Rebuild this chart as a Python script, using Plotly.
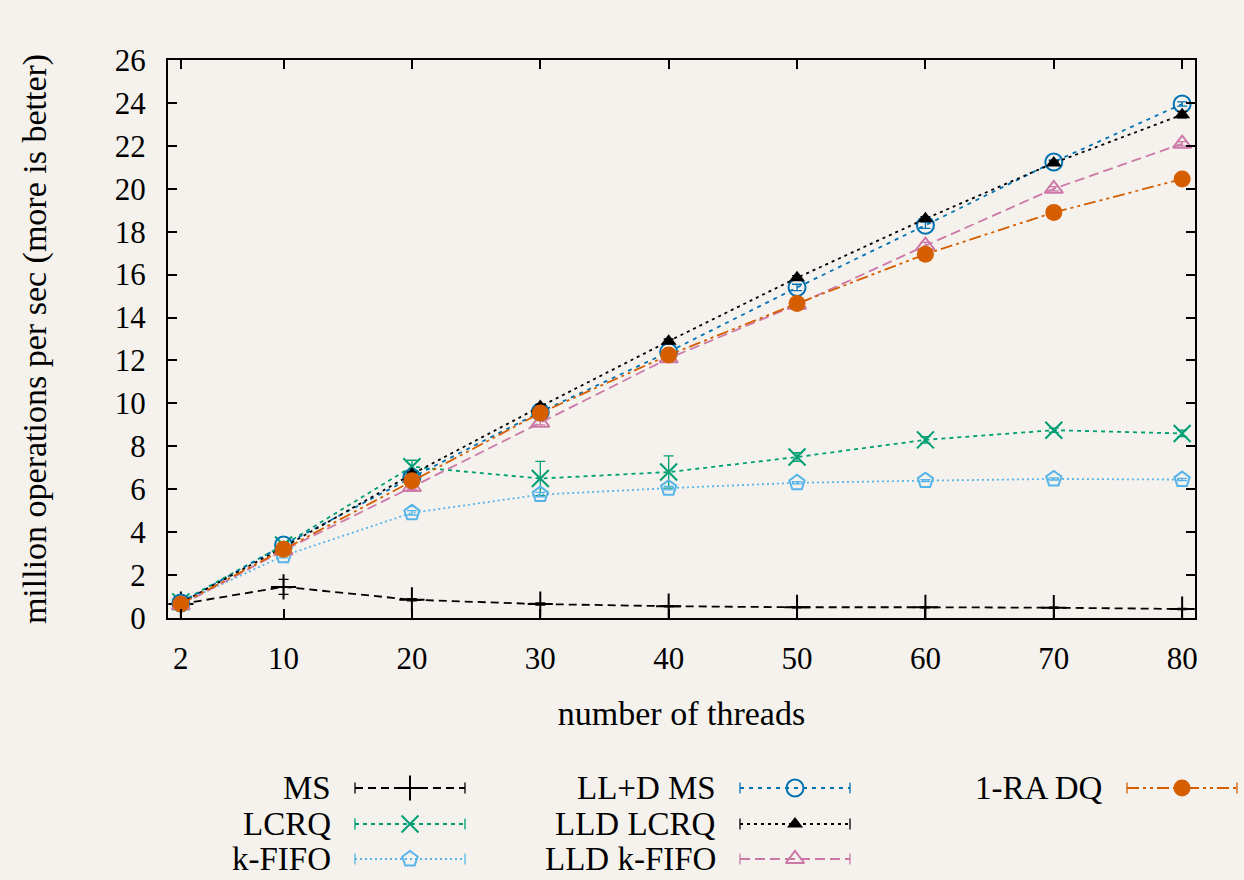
import plotly.graph_objects as go

W, H = 1244, 880

threads = [2, 10, 20, 30, 40, 50, 60, 70, 80]

ms = [0.65, 1.45, 0.85, 0.65, 0.55, 0.5, 0.5, 0.48, 0.42]
ms_err = [0.05, 0.35, 0.05, 0.05, 0.03, 0.03, 0.03, 0.03, 0.03]

lcrq = [0.75, 3.4, 7.05, 6.5, 6.8, 7.5, 8.3, 8.75, 8.6]
lcrq_err = [0.05, 0.15, 0.3, 0.8, 0.75, 0.2, 0.15, 0.1, 0.15]

kfifo = [0.7, 2.9, 4.9, 5.75, 6.05, 6.3, 6.4, 6.48, 6.45]
kfifo_err = [0.03, 0.1, 0.1, 0.1, 0.08, 0.05, 0.05, 0.05, 0.05]

lld_ms = [0.7, 3.4, 6.55, 9.6, 12.4, 15.4, 18.3, 21.25, 23.95]
lld_ms_err = [0.03, 0.1, 0.1, 0.1, 0.1, 0.15, 0.15, 0.1, 0.1]

lld_lcrq = [0.7, 3.3, 6.7, 9.85, 12.9, 15.85, 18.6, 21.2, 23.45]
lld_lcrq_err = [0.03, 0.1, 0.1, 0.1, 0.1, 0.1, 0.1, 0.1, 0.15]

lld_kfifo = [0.6, 3.15, 6.1, 9.1, 12.1, 14.6, 17.35, 20.0, 22.1]
lld_kfifo_err = [0.03, 0.1, 0.1, 0.1, 0.1, 0.1, 0.15, 0.1, 0.1]

ra_dq = [0.65, 3.2, 6.4, 9.55, 12.25, 14.65, 16.95, 18.9, 20.45]
ra_dq_err = [0.03, 0.1, 0.1, 0.1, 0.1, 0.1, 0.1, 0.1, 0.1]

y_ticks = list(range(0, 27, 2))

series = [
    # name, values, errors, color, dash, symbol, size, column, row
    ("MS", ms, ms_err, "#000000", "8px,5px", "cross-thin", 18, 0, 0),
    ("LCRQ", lcrq, lcrq_err, "#009e73", "4px,4px", "x-thin", 17, 0, 1),
    ("k-FIFO", kfifo, kfifo_err, "#56b4e9", "2px,3px", "pentagon-open", 16, 0, 2),
    ("LL+D MS", lld_ms, lld_ms_err, "#0072b2", "4px,5px", "circle-open", 17, 1, 0),
    ("LLD LCRQ", lld_lcrq, lld_lcrq_err, "#000000", "3px,4px", "triangle-up", 14, 1, 1),
    ("LLD k-FIFO", lld_kfifo, lld_kfifo_err, "#cc79a7", "10px,5px", "triangle-up-open", 16, 1, 2),
    ("1-RA DQ", ra_dq, ra_dq_err, "#d55e00", "12px,4px,3px,4px,3px,4px", "circle", 17, 2, 0),
]

FONT = "Liberation Serif"
BG = "#f5f2ed"

fig = go.Figure()

for name, vals, errs, color, dash, sym, size, col, row in series:
    open_sym = sym.endswith("open") or sym.endswith("thin")
    fig.add_trace(go.Scatter(
        x=threads, y=vals, name=name, mode="lines+markers",
        line=dict(color=color, width=1.8, dash=dash),
        marker=dict(symbol=sym, size=size, color=color,
                    line=dict(color=color, width=2 if open_sym else 0)),
        error_y=dict(type="data", array=errs, visible=True, color=color,
                     thickness=1.3, width=5),
        showlegend=False, xaxis="x", yaxis="y",
    ))

# custom gnuplot-style key: label on the left, sample on the right
label_right = [333, 718, 1105]
row_y = [788, 824, 859]
sample_gap, sample_len = 22, 110

for name, vals, errs, color, dash, sym, size, col, row in series:
    x0 = label_right[col] + sample_gap
    x1 = x0 + sample_len
    ym = row_y[row]
    open_sym = sym.endswith("open") or sym.endswith("thin")
    fig.add_trace(go.Scatter(
        x=[x0, x1], y=[ym, ym], mode="lines+markers",
        line=dict(color=color, width=1.8, dash=dash),
        marker=dict(symbol="line-ns", size=8, line=dict(color=color, width=1.3)),
        showlegend=False, xaxis="x2", yaxis="y2", hoverinfo="skip",
    ))
    fig.add_trace(go.Scatter(
        x=[(x0 + x1) / 2], y=[ym], mode="markers",
        marker=dict(symbol=sym, size=size, color=color,
                    line=dict(color=color, width=2 if open_sym else 0)),
        showlegend=False, xaxis="x2", yaxis="y2", hoverinfo="skip",
    ))
    fig.add_annotation(
        text=name, xref="paper", yref="paper",
        x=label_right[col] / W, y=1 - ym / H,
        xanchor="right", yanchor="middle", showarrow=False,
        font=dict(family=FONT, size=33, color="#000000"),
    )

x_dom = [168 / W, 1195 / W]
y_dom = [1 - 618 / H, 1 - 60 / H]

axis_common = dict(
    showgrid=False, zeroline=False, showline=True, linecolor="#000000",
    linewidth=2, mirror="ticks", ticks="inside", ticklen=9, tickwidth=1.5,
    tickcolor="#000000", tickfont=dict(family=FONT, size=31, color="#000000"),
    automargin=False,
)

fig.update_layout(
    width=W, height=H,
    margin=dict(l=0, r=0, t=0, b=0),
    paper_bgcolor=BG, plot_bgcolor="rgba(0,0,0,0)",
    xaxis=dict(
        domain=x_dom, range=[1, 81], tickvals=threads, ticktext=[str(t) for t in threads],
        ticklabelstandoff=12,
        title=dict(text="number of threads", font=dict(family=FONT, size=34, color="#000000"),
                   standoff=26),
        anchor="y",
        **axis_common,
    ),
    yaxis=dict(
        domain=y_dom, range=[0, 26], tickvals=y_ticks,
        ticklabelstandoff=14,
        title=dict(text="million operations per sec (more is better)",
                   font=dict(family=FONT, size=34, color="#000000"), standoff=58),
        anchor="x",
        **axis_common,
    ),
    xaxis2=dict(domain=[0, 1], range=[0, W], visible=False, fixedrange=True, anchor="y2"),
    yaxis2=dict(domain=[0, 1], range=[H, 0], visible=False, fixedrange=True, anchor="x2"),
    showlegend=False,
)

fig.write_html(
    "out.html",
    config={"displayModeBar": False},
    post_script="document.body.style.margin='0';document.body.style.background='%s';" % BG,
)
